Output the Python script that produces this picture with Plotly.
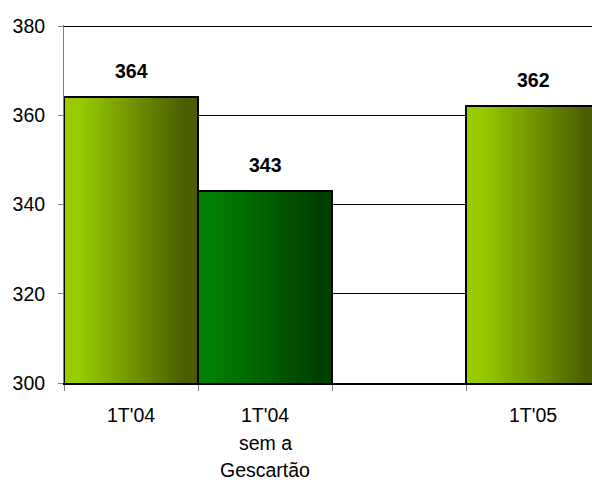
import plotly.graph_objects as go

# Quarterly values
categories = ["1T'04", "1T'04 sem a Gescartão", "1T'05"]
values = [364, 343, 362]
axis_order = ["1T'04", "1T'04 sem a Gescartão", " ", "1T'05"]
tick_first_line = ["1T'04", "1T'04", "", "1T'05"]
extra_label_lines = ["sem a", "Gescartão"]
y_ticks = [300, 320, 340, 360, 380]

# Left/right colours of the horizontal gradient for each bar
grad_left = [(153, 204, 0), (0, 128, 0), (153, 204, 0)]
grad_right = [(74, 94, 0), (0, 63, 0), (74, 94, 0)]

FONT = "Liberation Sans, Arial, sans-serif"
FS = 19.5
N = 48

def mix(a, b, t):
    return "rgb(%d,%d,%d)" % tuple(round(a[k] + (b[k] - a[k]) * t) for k in range(3))

fig = go.Figure()

# Gradient fill built from thin bar slices across each category
for i in range(N):
    s = (i + 0.5) / N
    t = min(max((s - 0.1) / 0.8, 0.0), 1.0)
    fig.add_trace(go.Bar(
        x=categories, y=values,
        width=1.0 / N * 1.15, offset=-0.5 + i / N,
        marker=dict(color=[mix(l, r, t) for l, r in zip(grad_left, grad_right)],
                    line=dict(width=0)),
        hoverinfo="skip", showlegend=False,
    ))

# Bar outlines
fig.add_trace(go.Bar(
    x=categories, y=values, width=1.0, offset=-0.5,
    marker=dict(color="rgba(0,0,0,0)", line=dict(color="black", width=2)),
    showlegend=False,
))

# Value labels above the bars
for c, v in zip(categories, values):
    fig.add_annotation(x=c, y=v, text="<b>%d</b>" % v, showarrow=False,
                       yanchor="bottom", yshift=13,
                       font=dict(family=FONT, size=FS, color="black"))

# Second and third lines of the middle category label
for k, line in enumerate(extra_label_lines):
    fig.add_annotation(x=categories[1], y=0, xref="x", yref="paper",
                       text=line, showarrow=False, yanchor="middle",
                       yshift=-60 - 27 * k,
                       font=dict(family=FONT, size=FS, color="black"))

fig.update_layout(
    width=592, height=480,
    margin=dict(l=64, r=0, t=25, b=97),
    paper_bgcolor="white", plot_bgcolor="white",
    barmode="overlay", bargap=0,
    font=dict(family=FONT, size=FS, color="black"),
)
fig.update_xaxes(
    type="category", categoryorder="array", categoryarray=axis_order,
    range=[-0.5, 3.44], tickson="boundaries",
    tickmode="array", tickvals=axis_order, ticktext=tick_first_line,
    ticks="outside", ticklen=6, tickcolor="#808080",
    showline=True, linecolor="black", linewidth=2,
    showgrid=False, ticklabelstandoff=14,
    tickfont=dict(family=FONT, size=FS),
)
fig.update_yaxes(
    range=[300, 380.25], tickvals=y_ticks,
    ticks="outside", ticklen=5, tickcolor="#808080",
    showline=True, linecolor="#808080", linewidth=1,
    showgrid=True, gridcolor="black", gridwidth=1,
    zeroline=False, ticklabelstandoff=9,
    tickfont=dict(family=FONT, size=FS),
)

fig.write_html("out.html")
